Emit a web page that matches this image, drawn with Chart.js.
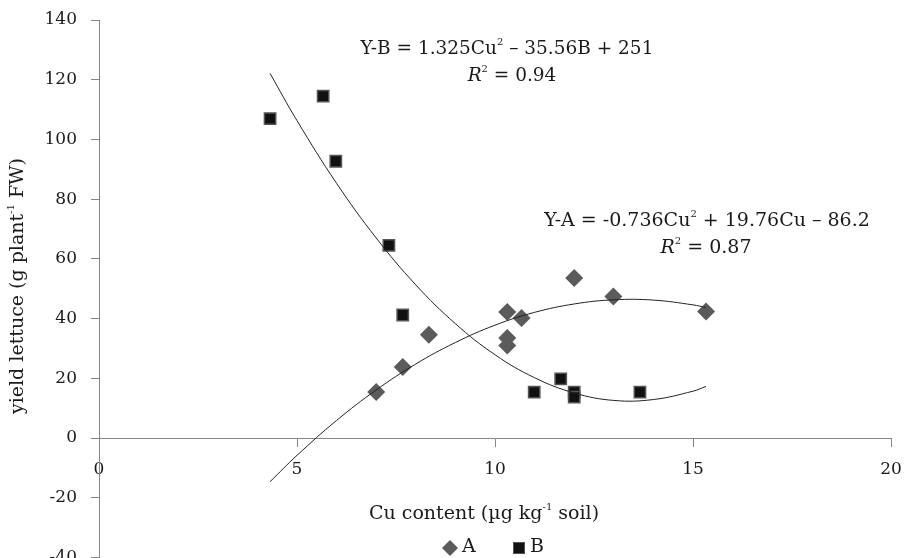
<!DOCTYPE html>
<html lang="en">
<head>
    <meta charset="UTF-8">
    <title>Yield lettuce vs Cu content</title>
    <script src="https://cdn.jsdelivr.net/npm/chart.js"></script>
    <style>
        html, body { margin: 0; background: #fff; overflow: hidden; }
        /* canvas runs a little past the window bottom, so the -40 label is cut like the original */
        #wrap { width: 906px; height: 567px; position: relative; }
    </style>
</head>
<body>
    <div id="wrap"><canvas id="yieldChart"></canvas></div>

    <script>
        // Series A (diamonds) and B (squares)
        const aCu = [7.0, 7.67, 8.33, 10.31, 10.67, 10.31, 10.31, 12.0, 12.99, 15.33];
        const aYield = [15.4, 23.8, 34.6, 42.2, 40.2, 33.5, 31.0, 53.6, 47.4, 42.4];
        const bCu = [4.32, 5.66, 5.98, 7.32, 7.67, 10.99, 11.66, 12.0, 12.0, 13.66];
        const bYield = [107, 114.5, 92.7, 64.5, 41.2, 15.4, 19.8, 15.4, 13.7, 15.4];

        // Trendline points
        const trendCu = [4.32, 5, 6, 7, 8, 9, 10, 11, 12, 13, 14, 15, 15.33];
        const trendA = [-14.6, -5.8, 5.9, 16.1, 24.8, 32.0, 37.8, 42.1, 44.9, 46.3, 46.2, 44.6, 43.7];
        const trendB = [122.1, 106.3, 85.3, 67.0, 51.3, 38.3, 27.9, 20.2, 15.1, 12.6, 12.9, 15.7, 17.3];

        const xTicks = [0, 5, 10, 15, 20];
        const yTicks = [-40, -20, 0, 20, 40, 60, 80, 100, 120, 140];

        const toPoints = (xs, ys) => xs.map((x, i) => ({ x: x, y: ys[i] }));

        const SERIF = "'DejaVu Serif', serif";
        const AXIS_GREY = '#868686';
        const TEXT = '#1a1a1a';

        // draw a run of text pieces (normal / superscript / italic), centred at cx
        function drawRun(ctx, parts, cx, baseY, size) {
            const supSize = Math.round(size * 0.55);
            const fontFor = p => (p.it ? 'italic ' : '') + (p.sup ? supSize : size) + 'px ' + SERIF;
            let total = 0;
            parts.forEach(p => { ctx.font = fontFor(p); total += ctx.measureText(p.t).width; });
            let x = cx - total / 2;
            ctx.textAlign = 'left';
            ctx.textBaseline = 'alphabetic';
            parts.forEach(p => {
                ctx.font = fontFor(p);
                ctx.fillText(p.t, x, p.sup ? baseY - size * 0.5 : baseY);
                x += ctx.measureText(p.t).width;
            });
        }

        const annotations = {
            id: 'annotations',
            afterDraw(chart) {
                const ctx = chart.ctx;
                ctx.save();
                ctx.fillStyle = TEXT;

                // equations
                drawRun(ctx, [{ t: 'Y-B = 1.325Cu' }, { t: '2', sup: true }, { t: ' \u2013 35.56B + 251' }], 507, 54, 18.5);
                drawRun(ctx, [{ t: 'R', it: true }, { t: '2', sup: true }, { t: ' = 0.94' }], 512, 81, 18.5);
                drawRun(ctx, [{ t: 'Y-A = -0.736Cu' }, { t: '2', sup: true }, { t: ' + 19.76Cu \u2013 86.2' }], 707, 226, 19);
                drawRun(ctx, [{ t: 'R', it: true }, { t: '2', sup: true }, { t: ' = 0.87' }], 706, 253, 19);

                // x axis title
                drawRun(ctx, [{ t: 'Cu content (\u00b5g kg' }, { t: '-1', sup: true }, { t: ' soil)' }], 484, 519, 19);

                // y axis title
                ctx.save();
                ctx.translate(23, 286);
                ctx.rotate(-Math.PI / 2);
                drawRun(ctx, [{ t: 'yield lettuce (g plant' }, { t: '-1', sup: true }, { t: ' FW)' }], 0, 0, 19);
                ctx.restore();

                // legend
                ctx.fillStyle = '#5b5b5b';
                ctx.beginPath();
                ctx.moveTo(450, 540); ctx.lineTo(458, 548); ctx.lineTo(450, 556); ctx.lineTo(442, 548);
                ctx.closePath();
                ctx.fill();
                ctx.fillStyle = TEXT;
                ctx.font = '19px ' + SERIF;
                ctx.fillText('A', 462, 552);
                ctx.fillStyle = '#111';
                ctx.fillRect(514, 543, 10, 10);
                ctx.strokeStyle = '#555';
                ctx.lineWidth = 1;
                ctx.strokeRect(513.5, 542.5, 11, 11);
                ctx.fillStyle = TEXT;
                ctx.fillText('B', 530, 552);
                ctx.restore();
            }
        };

        const chart = new Chart(document.getElementById('yieldChart'), {
            type: 'scatter',
            data: {
                datasets: [{
                    label: 'A',
                    data: toPoints(aCu, aYield),
                    pointStyle: 'rectRot',
                    pointRadius: 9,
                    backgroundColor: '#5b5b5b',
                    borderColor: '#5b5b5b',
                    borderWidth: 0,
                    order: 2
                }, {
                    label: 'B',
                    data: toPoints(bCu, bYield),
                    pointStyle: 'rect',
                    pointRadius: 8,
                    backgroundColor: '#111',
                    borderColor: '#555',
                    borderWidth: 1.5,
                    order: 2
                }, {
                    label: 'trend A',
                    data: toPoints(trendCu, trendA),
                    showLine: true,
                    pointRadius: 0,
                    borderColor: '#222',
                    borderWidth: 1,
                    tension: 0.4,
                    order: 1
                }, {
                    label: 'trend B',
                    data: toPoints(trendCu, trendB),
                    showLine: true,
                    pointRadius: 0,
                    borderColor: '#222',
                    borderWidth: 1,
                    tension: 0.4,
                    order: 1
                }]
            },
            options: {
                responsive: true,
                maintainAspectRatio: false,
                animation: false,
                layout: { padding: { top: 20, right: 15, bottom: 1, left: 0 } },
                plugins: {
                    legend: { display: false },
                    tooltip: { enabled: false }
                },
                scales: {
                    x: {
                        type: 'linear',
                        position: { y: 0 },
                        min: 0,
                        max: 20,
                        afterBuildTicks: s => { s.ticks = xTicks.map(v => ({ value: v })); },
                        afterFit: s => { s.paddingLeft = 0; s.paddingRight = 0; },
                        grid: { drawOnChartArea: false, drawTicks: true, tickLength: 8, color: AXIS_GREY },
                        border: { color: AXIS_GREY, width: 1 },
                        ticks: { padding: 13, color: TEXT, font: { family: SERIF, size: 17 } }
                    },
                    y: {
                        type: 'linear',
                        min: -40,
                        max: 140,
                        afterBuildTicks: s => { s.ticks = yTicks.map(v => ({ value: v })); },
                        afterFit: s => { s.width = 99; s.paddingTop = 0; s.paddingBottom = 0; },
                        grid: { drawOnChartArea: false, drawTicks: true, tickLength: 8, color: AXIS_GREY },
                        border: { color: AXIS_GREY, width: 1 },
                        ticks: { padding: 14, color: TEXT, font: { family: SERIF, size: 17 } }
                    }
                }
            },
            plugins: [annotations]
        });
    </script>
</body>
</html>
